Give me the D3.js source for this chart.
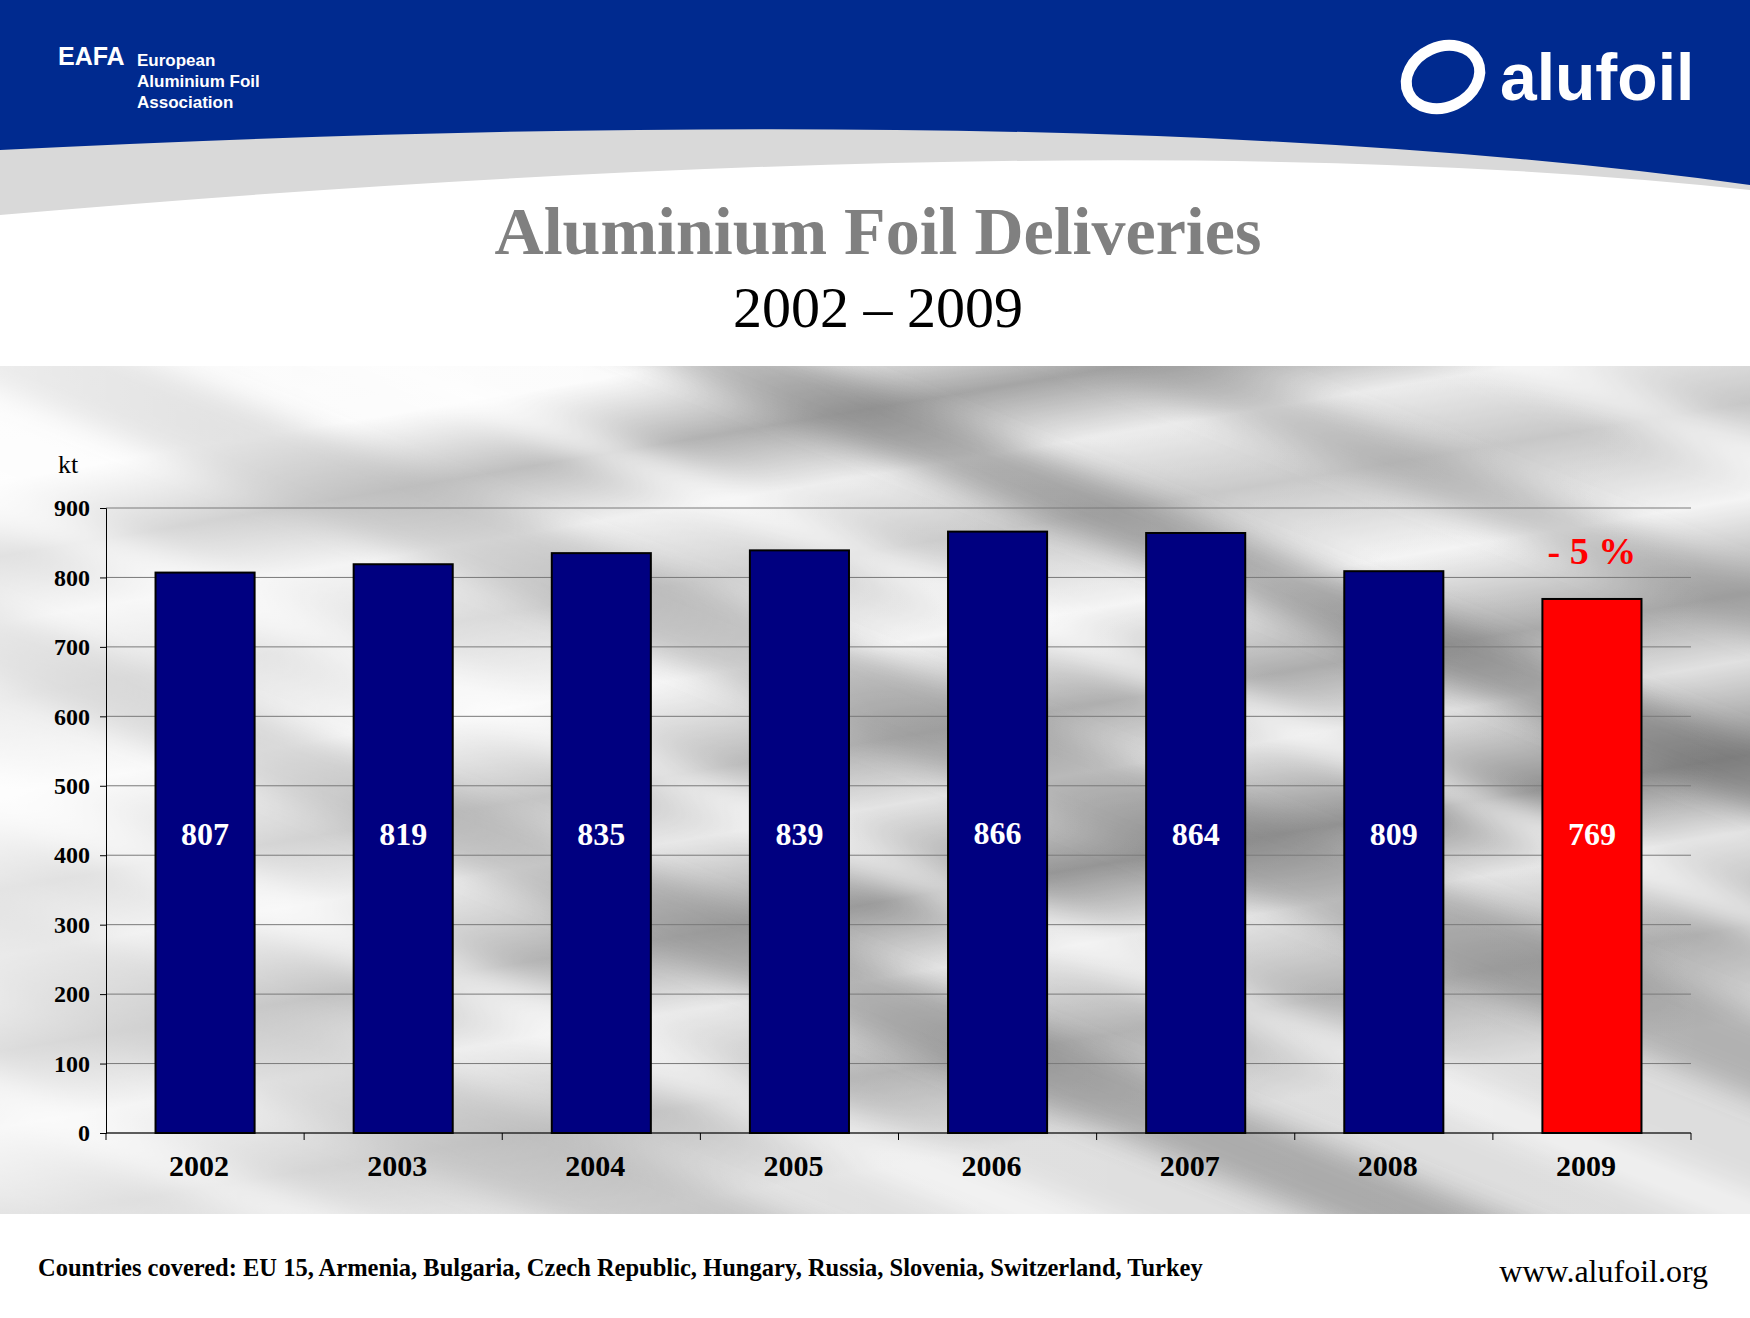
<!DOCTYPE html>
<html><head><meta charset="utf-8">
<script src="https://cdn.jsdelivr.net/npm/d3@7"></script>
<style>body{margin:0;background:#fff}svg{display:block}</style>
</head><body>
<script>
const years = ["2002","2003","2004","2005","2006","2007","2008","2009"];
const values = [807,819,835,839,866,864,809,769];
const yTicks = [0,100,200,300,400,500,600,700,800,900];

const W=1750,H=1318;
const svg=d3.select("body").append("svg").attr("width",W).attr("height",H);
const defs=svg.append("defs");
const bg=defs.append("linearGradient").attr("id","bg").attr("x1","0").attr("y1","0").attr("x2","0.35").attr("y2","1");
[[0,"#f4f4f4"],[0.12,"#fafafa"],[0.2,"#8c8c8c"],[0.27,"#e8e8e8"],[0.35,"#bdbdbd"],[0.45,"#f2f2f2"],[0.55,"#9a9a9a"],[0.62,"#dcdcdc"],[0.72,"#7a7a7a"],[0.8,"#e0e0e0"],[0.9,"#a0a0a0"],[1,"#d8d8d8"]]
  .forEach(s=>bg.append("stop").attr("offset",s[0]).attr("stop-color",s[1]));
defs.append("filter").attr("id","blur").append("feGaussianBlur").attr("stdDeviation",14);
defs.append("clipPath").attr("id","photo").append("rect").attr("x",0).attr("y",366).attr("width",W).attr("height",848);

const ph=svg.append("g").attr("clip-path","url(#photo)");
ph.append("rect").attr("x",0).attr("y",366).attr("width",W).attr("height",848).attr("fill","url(#bg)");
const streaks=ph.append("g").attr("filter","url(#blur)");
[[420,60,"#555",0.55],[560,30,"#fff",0.7],[700,80,"#666",0.45],[860,40,"#fff",0.6],[1000,70,"#555",0.5],[1150,50,"#fff",0.6],[1300,90,"#777",0.45],[1450,40,"#fff",0.55],[1600,70,"#666",0.4],[1750,60,"#fff",0.5],[250,50,"#777",0.4],[100,40,"#fff",0.6]]
 .forEach(s=>streaks.append("rect").attr("x",-600).attr("y",s[0]-s[1]/2).attr("width",3200).attr("height",s[1])
   .attr("fill",s[2]).attr("opacity",s[3]).attr("transform",`rotate(22,${W/2},${s[0]})`));
ph.append("rect").attr("x",0).attr("y",366).attr("width",W).attr("height",848).attr("fill","#fff").attr("opacity",0.15);
const fade=defs.append("linearGradient").attr("id","fade").attr("x1",0).attr("x2",1);
fade.append("stop").attr("offset",0).attr("stop-color","#fff").attr("stop-opacity",0.7);
fade.append("stop").attr("offset",0.5).attr("stop-color","#fff").attr("stop-opacity",0.1);
fade.append("stop").attr("offset",1).attr("stop-color","#fff").attr("stop-opacity",0);
ph.append("rect").attr("x",0).attr("y",366).attr("width",W).attr("height",848).attr("fill","url(#fade)");

svg.append("path").attr("d",`M0,0H${W}V190Q1100,120 0,215Z`).attr("fill","#d9d9d9");
svg.append("path").attr("d",`M0,0H${W}V185Q1100,95 0,150Z`).attr("fill","#002a8f");
svg.append("text").attr("x",58).attr("y",65).attr("fill","#fff").attr("font-family","Liberation Sans, Arial").attr("font-weight","bold").attr("font-size",25).text("EAFA");
["European","Aluminium Foil","Association"].forEach((t,i)=>svg.append("text").attr("x",137).attr("y",66+i*21).attr("fill","#fff").attr("font-family","Liberation Sans, Arial").attr("font-weight","bold").attr("font-size",17).text(t));
svg.append("ellipse").attr("cx",1443).attr("cy",77).attr("rx",38).attr("ry",30).attr("fill","none").attr("stroke","#fff").attr("stroke-width",11).attr("transform","rotate(-25,1443,77)");
svg.append("text").attr("x",1500).attr("y",100).attr("fill","#fff").attr("font-family","Liberation Sans, Arial").attr("font-weight","bold").attr("font-size",66).text("alufoil");

svg.append("text").attr("x",878).attr("y",254).attr("text-anchor","middle").attr("fill","#808080").attr("font-family","Liberation Serif, Times New Roman").attr("font-weight","bold").attr("font-size",68).text("Aluminium Foil Deliveries");
svg.append("text").attr("x",878).attr("y",327).attr("text-anchor","middle").attr("fill","#000").attr("font-family","Liberation Serif, Times New Roman").attr("font-size",58).text("2002 – 2009");

const L=106,R=1691,T=508,B=1133;
const x=d3.scaleBand().domain(years).range([L,R]).paddingInner(0.5).paddingOuter(0.25);
const y=d3.scaleLinear().domain([0,900]).range([B,T]);
const g=svg.append("g");
g.selectAll(".grid").data(yTicks).join("line").attr("x1",L).attr("x2",R).attr("y1",d=>y(d)).attr("y2",d=>y(d)).attr("stroke","#7a7a7a").attr("stroke-width",1);
const ya=g.append("g").attr("transform",`translate(${L},0)`).call(d3.axisLeft(y).tickValues(yTicks).tickSize(6).tickPadding(10));
ya.selectAll("text").attr("font-family","Liberation Serif, Times New Roman").attr("font-weight","bold").attr("font-size",24).attr("fill","#000");
const xa=g.append("g").attr("transform",`translate(-6,${B})`).call(d3.axisBottom(x).tickSize(0).tickPadding(22));
xa.select(".domain").remove();
g.append("line").attr("x1",L).attr("x2",R).attr("y1",B).attr("y2",B).attr("stroke","#000");
xa.selectAll("text").attr("font-family","Liberation Serif, Times New Roman").attr("font-weight","bold").attr("font-size",30).attr("fill","#000");
const bounds=d3.range(years.length+1).map(i=>L+i*(R-L)/years.length);
g.selectAll(".xt").data(bounds).join("line").attr("x1",d=>d).attr("x2",d=>d).attr("y1",B).attr("y2",B+7).attr("stroke","#000");
g.selectAll(".bar").data(years).join("rect").attr("x",d=>x(d)).attr("width",x.bandwidth())
  .attr("y",(d,i)=>y(values[i])).attr("height",(d,i)=>B-y(values[i]))
  .attr("fill",(d,i)=>i===years.length-1?"#ff0000":"#000080").attr("stroke","#000").attr("stroke-width",2);
g.selectAll(".lab").data(years).join("text").attr("x",d=>x(d)+x.bandwidth()/2)
  .attr("y",(d,i)=>y(Math.max(values[i]/2,432))+12).attr("text-anchor","middle").attr("fill","#fff")
  .attr("font-family","Liberation Serif, Times New Roman").attr("font-weight","bold").attr("font-size",32).text((d,i)=>values[i]);
svg.append("text").attr("x",58).attr("y",473).attr("font-family","Liberation Serif, Times New Roman").attr("font-size",26).text("kt");
svg.append("text").attr("x",x("2009")+x.bandwidth()/2).attr("y",564).attr("text-anchor","middle").attr("fill","#ff0000").attr("font-family","Liberation Serif, Times New Roman").attr("font-weight","bold").attr("font-size",38).text("- 5 %");

svg.append("text").attr("x",38).attr("y",1276).attr("font-family","Liberation Serif, Times New Roman").attr("font-weight","bold").attr("font-size",24.5).text("Countries covered: EU 15, Armenia, Bulgaria, Czech Republic, Hungary, Russia, Slovenia, Switzerland, Turkey");
svg.append("text").attr("x",1708).attr("y",1282).attr("text-anchor","end").attr("font-family","Liberation Serif, Times New Roman").attr("font-size",32).text("www.alufoil.org");
</script>
</body></html>
